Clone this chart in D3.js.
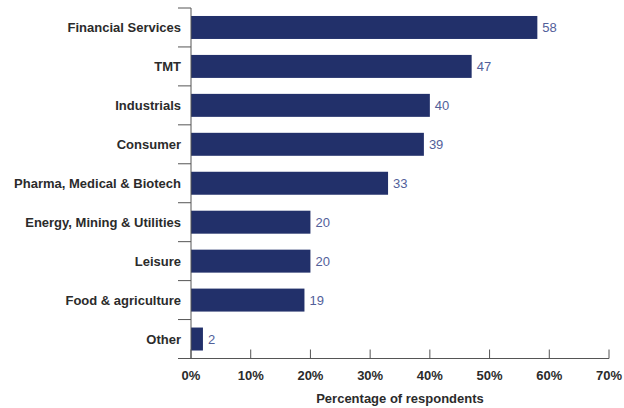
<!DOCTYPE html>
<html>
<head>
<meta charset="utf-8">
<script src="https://cdn.jsdelivr.net/npm/d3@7"></script>
<style>
  html, body { margin: 0; padding: 0; background: #fff; }
  svg { display: block; }
</style>
</head>
<body>
<svg id="chart" width="624" height="408"></svg>
<script>
// Sectors and share of respondents (%)
const sectors = [
  "Financial Services",
  "TMT",
  "Industrials",
  "Consumer",
  "Pharma, Medical & Biotech",
  "Energy, Mining & Utilities",
  "Leisure",
  "Food & agriculture",
  "Other"
];
const shares = [58, 47, 40, 39, 33, 20, 20, 19, 2];
const xTicks = [0, 10, 20, 30, 40, 50, 60, 70];
const xTitle = "Percentage of respondents";

const svg = d3.select("#chart");
const plotLeft = 191, plotRight = 609, plotTop = 8, plotBottom = 358.5;
const font = "'Liberation Sans', Arial, Helvetica, sans-serif";

const x = d3.scaleLinear().domain([0, 70]).range([plotLeft, plotRight]);
const y = d3.scaleBand().domain(sectors).range([plotTop, plotBottom])
  .paddingInner(0.41).paddingOuter(0.205);
const step = y.step();
const bandTop = d => y(d) - step * y.paddingInner() / 2;

// bars
svg.append("g").selectAll("rect")
  .data(sectors)
  .join("rect")
  .attr("x", x(0))
  .attr("y", d => y(d))
  .attr("width", (d, i) => x(shares[i]) - x(0))
  .attr("height", y.bandwidth())
  .attr("fill", "#22306a");

// value labels
svg.append("g").selectAll("text")
  .data(sectors)
  .join("text")
  .attr("x", (d, i) => x(shares[i]) + 5)
  .attr("y", d => y(d) + y.bandwidth() / 2)
  .attr("dy", "0.36em")
  .attr("font-family", font)
  .attr("font-size", 13)
  .attr("fill", "#52609a")
  .text((d, i) => shares[i]);

// category axis: vertical line with ticks at band boundaries
const yAxis = svg.append("g");
yAxis.append("line")
  .attr("x1", plotLeft).attr("x2", plotLeft)
  .attr("y1", plotTop).attr("y2", plotBottom)
  .attr("stroke", "#555").attr("stroke-width", 1);
yAxis.selectAll("line.tick")
  .data(sectors)
  .join("line")
  .attr("class", "tick")
  .attr("x1", plotLeft - 13).attr("x2", plotLeft)
  .attr("y1", d => bandTop(d)).attr("y2", d => bandTop(d))
  .attr("stroke", "#555").attr("stroke-width", 1);
yAxis.selectAll("text")
  .data(sectors)
  .join("text")
  .attr("x", plotLeft - 10)
  .attr("y", d => y(d) + y.bandwidth() / 2)
  .attr("dy", "0.36em")
  .attr("text-anchor", "end")
  .attr("font-family", font)
  .attr("font-weight", "bold")
  .attr("font-size", 13)
  .attr("fill", "#2b2b2b")
  .text(d => d);

// value axis along the bottom
const xAxis = svg.append("g");
xAxis.append("line")
  .attr("x1", plotLeft - 13).attr("x2", plotRight)
  .attr("y1", plotBottom).attr("y2", plotBottom)
  .attr("stroke", "#555").attr("stroke-width", 1);
xAxis.selectAll("line.tick")
  .data(xTicks)
  .join("line")
  .attr("class", "tick")
  .attr("x1", d => x(d)).attr("x2", d => x(d))
  .attr("y1", plotBottom - 9).attr("y2", plotBottom)
  .attr("stroke", "#555").attr("stroke-width", 1);
xAxis.selectAll("text")
  .data(xTicks)
  .join("text")
  .attr("x", d => x(d))
  .attr("y", plotBottom + 21)
  .attr("text-anchor", "middle")
  .attr("font-family", font)
  .attr("font-weight", "bold")
  .attr("font-size", 13)
  .attr("fill", "#2b2b2b")
  .text(d => d + "%");

svg.append("text")
  .attr("x", (plotLeft + plotRight) / 2)
  .attr("y", plotBottom + 44)
  .attr("text-anchor", "middle")
  .attr("font-family", font)
  .attr("font-weight", "bold")
  .attr("font-size", 13)
  .attr("fill", "#2b2b2b")
  .text(xTitle);
</script>
</body>
</html>
